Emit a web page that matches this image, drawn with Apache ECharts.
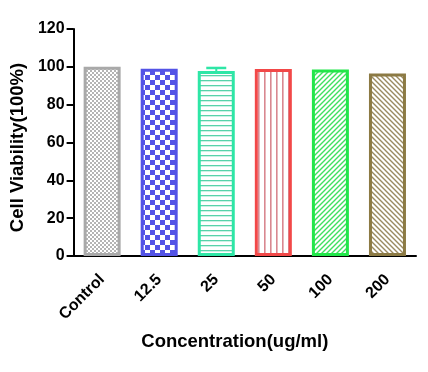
<!DOCTYPE html>
<html><head><meta charset="utf-8">
<script src="https://cdn.jsdelivr.net/npm/echarts@6/dist/echarts.min.js"></script>
<style>html,body{margin:0;padding:0;background:#fff}#c{width:428px;height:372px}</style>
</head><body><div id="c"></div>
<script>
const categories = ['Control','12.5','25','50','100','200'];
const viability = [100, 99, 97.8, 98.8, 98.6, 96.5];
const errors = [0, 0, 1.6, 0, 0, 0];
const yTicks = [0,20,40,60,80,100,120];

function pat(kind, col){
  const c = document.createElement('canvas');
  const g = c.getContext('2d');
  function base(s){ c.width=c.height=s; g.fillStyle='#fff'; g.fillRect(0,0,s,s); g.fillStyle=col; g.strokeStyle=col; }
  if(kind==='fine'){ base(4); g.fillRect(0,0,2,2); g.fillRect(2,2,2,2); }
  else if(kind==='checker'){ base(10); g.fillRect(0,0,5,5); g.fillRect(5,5,5,5); }
  else if(kind==='h'){ base(5); g.fillRect(0,0,5,1.3); }
  else if(kind==='v'){ base(6); g.fillRect(0,0,1.6,6); }
  else if(kind==='d1'||kind==='d2'){ base(5); g.lineWidth=1.4;
    g.beginPath();
    if(kind==='d1'){ g.moveTo(-1,6);g.lineTo(6,-1); g.moveTo(-1,1);g.lineTo(1,-1); g.moveTo(4,6);g.lineTo(6,4);} 
    else { g.moveTo(-1,-1);g.lineTo(6,6); g.moveTo(4,-1);g.lineTo(6,1); g.moveTo(-1,4);g.lineTo(1,6);} 
    g.stroke(); }
  return {image:c, repeat:'repeat'};
}
const styles = [
  {b:'#a9a9a9', p:pat('fine','#b4b4b4')},
  {b:'#5353e6', p:pat('checker','#5353e6')},
  {b:'#2ee6a6', p:pat('h','#58d2aa')},
  {b:'#f24848', p:pat('v','#d98890')},
  {b:'#22e64a', p:pat('d1','#3ee060')},
  {b:'#8c7a44', p:pat('d2','#9a8a60')}
];
const font = 'Liberation Sans, Arial, sans-serif';
const chart = echarts.init(document.getElementById('c'));
chart.setOption({
  animation:false,
  grid:{left:73,right:12,top:29,bottom:116,containLabel:false},
  xAxis:{type:'category',data:categories,
    name:'Concentration(ug/ml)',nameLocation:'middle',nameGap:76,
    nameTextStyle:{fontFamily:font,fontWeight:'bold',fontSize:18.5,color:'#000',padding:[0,20,0,0]},
    axisLine:{lineStyle:{color:'#000',width:2}},
    axisTick:{alignWithLabel:true,length:6,lineStyle:{color:'#000',width:2}},
    axisLabel:{rotate:45,fontFamily:font,fontWeight:'bold',fontSize:16,color:'#000',margin:21}},
  yAxis:{type:'value',min:0,max:120,interval:20,
    name:'Cell Viability(100%)',nameLocation:'middle',nameGap:40,
    nameTextStyle:{fontFamily:font,fontWeight:'bold',fontSize:18.5,color:'#000',padding:[0,10,0,0]},
    axisLine:{show:true,lineStyle:{color:'#000',width:2}},
    axisTick:{show:true,length:7,lineStyle:{color:'#000',width:2}},
    splitLine:{show:false},
    axisLabel:{fontFamily:font,fontWeight:'bold',fontSize:16,color:'#000',margin:9,
      formatter:v=>yTicks.includes(v)?String(v):''}},
  series:[
    {type:'bar',barWidth:37,z:2,
     data:viability.map((v,i)=>({value:v,itemStyle:{color:styles[i].p,borderColor:styles[i].b,borderWidth:3}}))},
    {type:'custom',z:3,
     data:viability.map((v,i)=>[i,v,errors[i]]),
     renderItem:(params,api)=>{
       const i=api.value(0), v=api.value(1), e=api.value(2);
       if(!e) return null;
       const top=api.coord([i,v+e]), mid=api.coord([i,v]);
       const col=styles[i].b;
       return {type:'group',children:[
         {type:'line',shape:{x1:top[0],y1:top[1],x2:mid[0],y2:mid[1]},style:{stroke:col,lineWidth:2}},
         {type:'line',shape:{x1:top[0]-10,y1:top[1],x2:top[0]+10,y2:top[1]},style:{stroke:col,lineWidth:2.5}}
       ]};
     }}
  ]
});
</script></body></html>
